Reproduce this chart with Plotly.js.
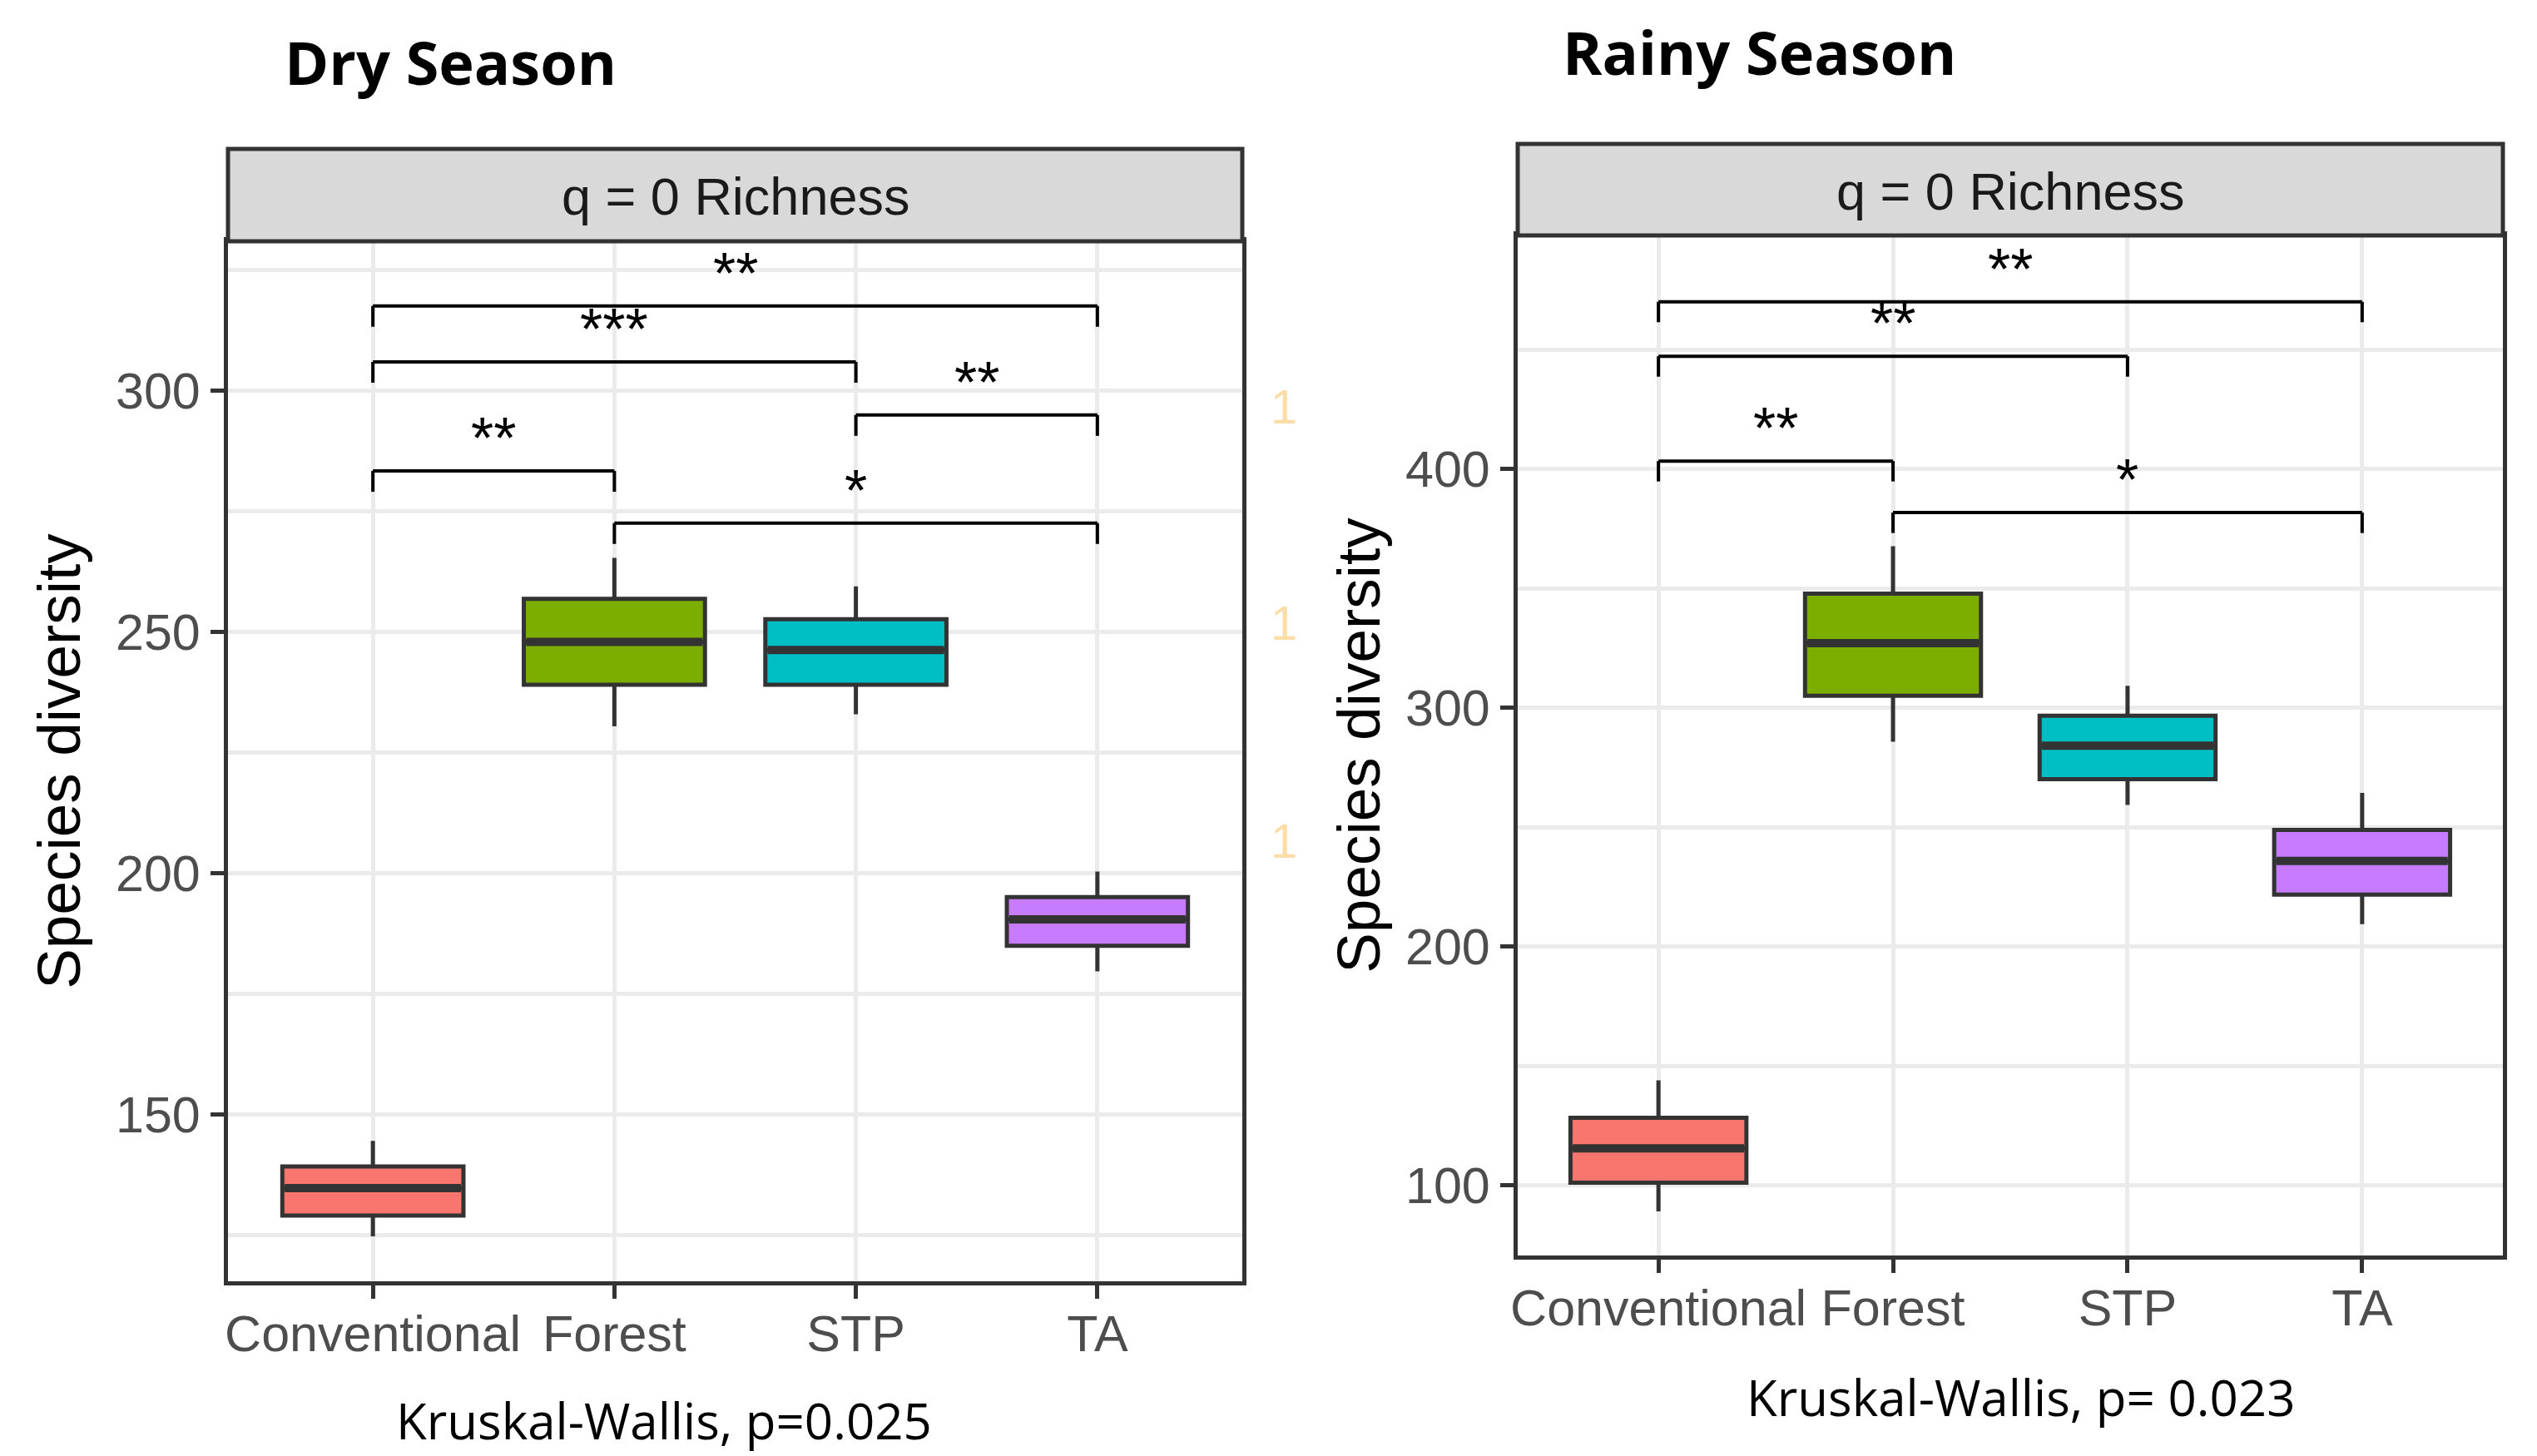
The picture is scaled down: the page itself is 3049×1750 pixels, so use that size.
<!DOCTYPE html>
<html>
<head>
<meta charset="utf-8">
<script src="https://cdn.plot.ly/plotly-3.0.1.min.js"></script>
<style>html,body{margin:0;padding:0;background:#ffffff;}</style>
</head>
<body>
<div id="chart" style="width:3049px;height:1750px;"></div>
<script>
// ---------- data ----------
const categories = ['Conventional', 'Forest', 'STP', 'TA'];
const seasonTitles = ['Dry Season', 'Rainy Season'];
const stripLabel = 'q = 0 Richness';
const yAxisTitle = 'Species diversity';
const kruskalLabels = ['Kruskal-Wallis, p=0.025', 'Kruskal-Wallis, p= 0.023'];

// Dry season box statistics
const dryLower  = [124.8, 230.5, 233.0, 179.7];
const dryQ1     = [129.1, 239.1, 239.1, 185.0];
const dryMedian = [134.8, 248.0, 246.3, 190.5];
const dryQ3     = [139.3, 256.9, 252.7, 195.1];
const dryUpper  = [144.6, 265.4, 259.5, 200.4];

// Rainy season box statistics
const rainyLower  = [89.1, 285.8, 259.3, 209.4];
const rainyQ1     = [101.1, 305.1, 270.1, 221.8];
const rainyMedian = [115.5, 327.1, 284.2, 235.9];
const rainyQ3     = [128.3, 347.9, 296.7, 248.9];
const rainyUpper  = [144.0, 367.7, 309.3, 264.4];

// Axis ticks
const dryTicks = [150, 200, 250, 300];
const dryTickLabels = ['150', '200', '250', '300'];
const dryMinor = [125, 175, 225, 275, 325];
const rainyTicks = [100, 200, 300, 400];
const rainyTickLabels = ['100', '200', '300', '400'];
const rainyMinor = [150, 250, 350, 450];

// Pairwise comparison brackets (category index pairs, bracket height, label)
const dryPairs = [[0, 1], [1, 3], [2, 3], [0, 2], [0, 3]];
const dryBracketY = [283.4, 272.6, 295.0, 306.0, 317.6];
const dryBracketLabels = ['**', '*', '**', '***', '**'];
const rainyPairs = [[0, 1], [1, 3], [0, 2], [0, 3]];
const rainyBracketY = [403.4, 381.8, 447.3, 470.1];
const rainyBracketLabels = ['**', '*', '**', '**'];

// Faint cut-off side labels visible right of the dry panel
const sideMarks = ['1', '1', '1'];

// ---------- styling ----------
const fillColors = ['#F8766D', '#7CAE00', '#00BFC4', '#C77CFF'];
const W = 3049, H = 1750;
const px = v => v / W;
const py = v => 1 - v / H;
const TEXT_FONT = 'Liberation Sans, Arial, sans-serif';
const TITLE_FONT = 'Open Sans, Liberation Sans, sans-serif';

const panels = [
  { xa: 'x', ya: 'y', lower: dryLower, q1: dryQ1, med: dryMedian, q3: dryQ3, upper: dryUpper,
    pairs: dryPairs, by: dryBracketY, bl: dryBracketLabels, range: [115.5, 331],
    plot: [274, 290, 1493, 1540], strip: [274, 179, 1493, 290],
    title: [340, 74], kw: [798, 1749, 'bottom'], standoff: 20 },
  { xa: 'x2', ya: 'y2', lower: rainyLower, q1: rainyQ1, med: rainyMedian, q3: rainyQ3, upper: rainyUpper,
    pairs: rainyPairs, by: rainyBracketY, bl: rainyBracketLabels, range: [70.6, 497.9],
    plot: [1824, 283, 3008, 1509], strip: [1824, 173, 3008, 283],
    title: [1876, 62], kw: [2428, 1679, 'middle'], standoff: 8 }
];

const traces = [];
const shapes = [];
const annotations = [];
const BOX_W = 0.75;

panels.forEach((p, k) => {
  categories.forEach((c, i) => {
    traces.push({
      type: 'box', xaxis: p.xa, yaxis: p.ya,
      x: [c], q1: [p.q1[i]], median: [p.med[i]], q3: [p.q3[i]],
      lowerfence: [p.lower[i]], upperfence: [p.upper[i]],
      width: BOX_W, whiskerwidth: 0, boxpoints: false,
      fillcolor: fillColors[i], line: { color: '#333333', width: 5 },
      showlegend: false, hoverinfo: 'skip'
    });
    // thicker median bar (ggplot style)
    shapes.push({
      type: 'line', xref: p.xa, yref: p.ya, layer: 'above',
      x0: i - BOX_W / 2 + 0.01, x1: i + BOX_W / 2 - 0.01, y0: p.med[i], y1: p.med[i],
      line: { color: '#333333', width: 10 }
    });
  });

  const tip = 0.02 * (p.range[1] - p.range[0]);
  p.pairs.forEach(([a, b], j) => {
    const y = p.by[j];
    const segs = [[a, y - tip, a, y], [a, y, b, y], [b, y, b, y - tip]];
    segs.forEach(s => shapes.push({
      type: 'line', xref: p.xa, yref: p.ya, layer: 'above',
      x0: s[0], y0: s[1], x1: s[2], y1: s[3],
      line: { color: '#000000', width: 4 }
    }));
    annotations.push({
      xref: p.xa, yref: p.ya, x: (a + b) / 2, y: y, yanchor: 'bottom', xanchor: 'center',
      text: p.bl[j], showarrow: false, yshift: -2,
      font: { family: TEXT_FONT, size: 70, color: '#000000' }
    });
  });

  // facet strip
  shapes.push({
    type: 'rect', xref: 'paper', yref: 'paper', layer: 'above',
    x0: px(p.strip[0]), x1: px(p.strip[2]), y0: py(p.strip[3]), y1: py(p.strip[1]),
    fillcolor: '#D9D9D9', line: { color: '#333333', width: 5 }
  });
  annotations.push({
    xref: 'paper', yref: 'paper', x: px((p.strip[0] + p.strip[2]) / 2), y: py((p.strip[1] + p.strip[3]) / 2 + 2),
    xanchor: 'center', yanchor: 'middle', text: stripLabel, showarrow: false,
    font: { family: TEXT_FONT, size: 63, color: '#1A1A1A' }
  });
  // season title
  annotations.push({
    xref: 'paper', yref: 'paper', x: px(p.title[0]), y: py(p.title[1]),
    xanchor: 'left', yanchor: 'middle', text: seasonTitles[k], showarrow: false,
    font: { family: TITLE_FONT, size: 72, color: '#000000', weight: 700 }
  });
  // Kruskal-Wallis result
  annotations.push({
    xref: 'paper', yref: 'paper', x: px(p.kw[0]), y: py(p.kw[1]),
    xanchor: 'center', yanchor: p.kw[2], borderpad: 0, text: kruskalLabels[k], showarrow: false,
    font: { family: TITLE_FONT, size: 60, color: '#000000' }
  });
});

// faint cut-off side marks
const sideY = [488, 749, 1010];
sideMarks.forEach((t, i) => annotations.push({
  xref: 'paper', yref: 'paper', x: px(1525), y: py(sideY[i]), xanchor: 'left', yanchor: 'middle',
  text: t, showarrow: false, font: { family: TEXT_FONT, size: 58, color: '#FBDDA8' }
}));

function xAxis(p) {
  return {
    domain: [px(p.plot[0]), px(p.plot[2])], anchor: p.ya,
    type: 'category', categoryorder: 'array', categoryarray: categories, range: [-0.6, 3.6],
    showline: true, mirror: true, linecolor: '#333333', linewidth: 5,
    ticks: 'outside', ticklen: 16, tickwidth: 5, tickcolor: '#333333', ticklabelstandoff: -10,
    showgrid: true, gridcolor: '#EBEBEB', gridwidth: 5, zeroline: false,
    tickfont: { family: TEXT_FONT, size: 61, color: '#4D4D4D' }, fixedrange: true
  };
}
function yAxis(p, ticks, labels, minor) {
  return {
    domain: [py(p.plot[3]), py(p.plot[1])], anchor: p.xa,
    range: p.range, tickmode: 'array', tickvals: ticks, ticktext: labels,
    minor: { tickmode: 'array', tickvals: minor, showgrid: true, gridcolor: '#EBEBEB', gridwidth: 5, ticks: '' },
    showline: true, mirror: true, linecolor: '#333333', linewidth: 5,
    ticks: 'outside', ticklen: 16, tickwidth: 5, tickcolor: '#333333',
    showgrid: true, gridcolor: '#EBEBEB', gridwidth: 5, zeroline: false,
    tickfont: { family: TEXT_FONT, size: 61, color: '#4D4D4D' }, fixedrange: true,
    title: { text: yAxisTitle, standoff: p.standoff, font: { family: TEXT_FONT, size: 73, color: '#000000' } }
  };
}

const layout = {
  width: W, height: H, margin: { l: 0, r: 0, t: 0, b: 0 },
  paper_bgcolor: '#ffffff', plot_bgcolor: '#ffffff',
  showlegend: false, boxmode: 'overlay',
  font: { family: TEXT_FONT },
  xaxis: xAxis(panels[0]), yaxis: yAxis(panels[0], dryTicks, dryTickLabels, dryMinor),
  xaxis2: xAxis(panels[1]), yaxis2: yAxis(panels[1], rainyTicks, rainyTickLabels, rainyMinor),
  shapes: shapes, annotations: annotations
};

Plotly.newPlot('chart', traces, layout, { displayModeBar: false, staticPlot: true });
</script>
</body>
</html>
